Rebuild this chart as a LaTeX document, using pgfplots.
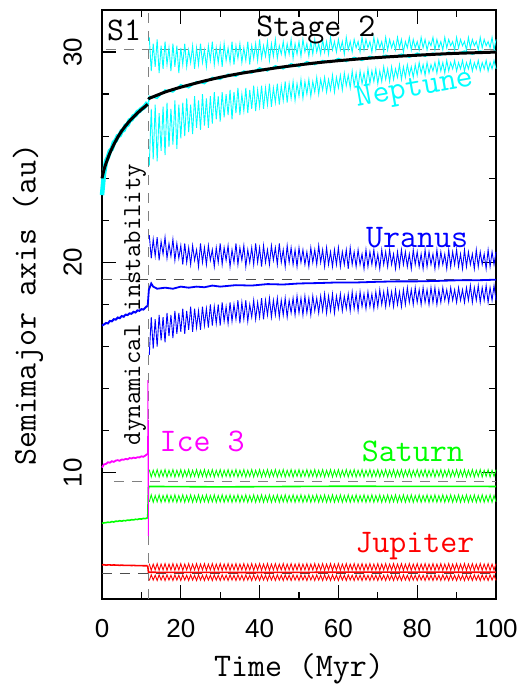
\documentclass[border=0pt]{standalone}
\usepackage{fontspec}
\usepackage{pgfplots}
\usepackage{pgfplotstable}
\pgfplotsset{compat=1.18}
\newfontfamily\tickfont{Liberation Sans}
\newcommand\labfont{\ttfamily\fontsize{33}{36}\selectfont}
\definecolor{cy}{rgb}{0,1,1}
\definecolor{mg}{rgb}{1,0,1}
\definecolor{gr}{rgb}{0,1,0}
\definecolor{bl}{rgb}{0,0,1}
\definecolor{rd}{rgb}{1,0,0}

% before the instability: t, Neptune, Uranus, Saturn, Ice 3, Jupiter
\pgfplotstableread{
t nA uA sA iA jA
0 23.2 17.00 7.60 10.25 5.62
0.5 24.2 17.05 7.62 10.40 5.63
1 24.8 17.12 7.63 10.42 5.61
1.5 25.0 17.10 7.65 10.50 5.62
2 25.3 17.22 7.64 10.48 5.62
2.5 25.4 17.20 7.68 10.55 5.61
3 25.7 17.30 7.66 10.52 5.62
3.5 25.8 17.28 7.70 10.58 5.61
4 26.0 17.38 7.69 10.60 5.61
4.5 26.05 17.35 7.72 10.57 5.60
5 26.25 17.45 7.70 10.63 5.61
5.5 26.3 17.42 7.73 10.62 5.60
6 26.5 17.52 7.72 10.66 5.60
6.5 26.55 17.50 7.75 10.64 5.60
7 26.75 17.58 7.74 10.70 5.60
7.5 26.8 17.56 7.77 10.68 5.59
8 26.95 17.65 7.76 10.72 5.60
8.5 27.0 17.62 7.79 10.70 5.59
9 27.15 17.72 7.78 10.74 5.59
9.5 27.2 17.70 7.81 10.73 5.59
10 27.3 17.78 7.80 10.78 5.59
10.5 27.35 17.76 7.83 10.76 5.58
11 27.45 17.85 7.82 10.82 5.58
11.6 27.6 17.95 7.86 10.90 5.58
}\pre

% after the instability: aphelion (Q) and perihelion (q) of each planet
\pgfplotstableread{
t nQ nq uQ uq sQ sq jQ jq
12 30.7 24.6 21.3 15.6 10.15 8.62 5.68 4.88
12.5 29.1 27.3 20.2 17.4 9.80 8.95 5.36 5.15
13 30.4 24.9 21.1 15.9 10.12 8.60 5.66 4.90
13.5 29.3 27.5 20.3 17.3 9.83 8.92 5.38 5.13
14 30.6 24.8 21.2 16.0 10.15 8.62 5.68 4.88
14.5 29.0 27.1 20.1 17.5 9.80 8.95 5.36 5.15
15 30.3 25.3 21.0 16.3 10.12 8.60 5.66 4.90
15.5 29.2 27.4 20.4 17.4 9.83 8.92 5.38 5.13
16 30.5 25.1 21.2 16.2 10.15 8.62 5.68 4.88
16.5 29.4 27.6 20.2 17.6 9.80 8.95 5.36 5.15
17 30.2 25.5 20.9 16.5 10.12 8.60 5.66 4.90
17.5 29.1 27.3 20.3 17.5 9.83 8.92 5.38 5.13
18 30.4 25.6 21.1 16.4 10.15 8.62 5.68 4.88
18.5 29.3 27.7 20.1 17.7 9.80 8.95 5.36 5.15
19 30.3 25.4 20.9 16.6 10.12 8.60 5.66 4.90
19.5 29.0 27.5 20.2 17.6 9.83 8.92 5.38 5.13
20 30.2 25.9 20.8 16.7 10.15 8.62 5.68 4.88
20.5 29.4 27.6 19.9 17.8 9.80 8.95 5.36 5.15
21 30.4 26.0 20.9 16.6 10.12 8.60 5.66 4.90
21.5 29.3 27.8 20.0 17.7 9.83 8.92 5.38 5.13
22 30.1 26.2 20.7 16.8 10.15 8.62 5.68 4.88
22.5 29.5 27.5 19.9 17.9 9.80 8.95 5.36 5.15
23 30.3 26.1 20.8 16.7 10.12 8.60 5.66 4.90
23.5 29.2 27.9 20.1 17.8 9.83 8.92 5.38 5.13
24 30.2 26.4 20.6 16.9 10.15 8.62 5.68 4.88
24.5 29.4 27.7 19.8 17.7 9.80 8.95 5.36 5.15
25 30.4 26.3 20.9 16.8 10.12 8.60 5.66 4.90
25.5 29.5 28.0 20.0 17.9 9.83 8.92 5.38 5.13
26 30.1 26.5 20.7 17.0 10.15 8.62 5.68 4.88
26.5 29.3 27.8 19.9 17.8 9.80 8.95 5.36 5.15
27 30.3 26.4 20.8 16.9 10.12 8.60 5.66 4.90
27.5 29.6 27.9 20.1 18.0 9.83 8.92 5.38 5.13
28 30.5 26.6 20.6 17.0 10.15 8.62 5.68 4.88
28.5 29.4 28.1 19.8 17.9 9.80 8.95 5.36 5.15
29 30.2 26.8 20.7 17.1 10.12 8.60 5.66 4.90
29.5 29.5 27.9 20.0 18.0 9.83 8.92 5.38 5.13
30 30.3 26.7 20.9 17.0 10.15 8.62 5.68 4.88
30.5 29.3 28.1 19.9 18.1 9.80 8.95 5.36 5.15
31 30.4 26.9 20.7 17.2 10.12 8.60 5.66 4.90
31.5 29.6 28.0 20.1 17.9 9.83 8.92 5.38 5.13
32 30.2 27.0 20.8 17.1 10.15 8.62 5.68 4.88
32.5 29.5 28.2 19.8 18.1 9.80 8.95 5.36 5.15
33 30.5 26.8 20.6 17.2 10.12 8.60 5.66 4.90
33.5 29.4 28.1 20.0 18.0 9.83 8.92 5.38 5.13
34 30.3 27.1 20.9 17.3 10.15 8.62 5.68 4.88
34.5 29.7 28.3 19.9 18.2 9.80 8.95 5.36 5.15
35 30.4 27.0 20.7 17.1 10.12 8.60 5.66 4.90
35.5 29.5 28.0 20.1 18.1 9.83 8.92 5.38 5.13
36 30.2 27.2 20.8 17.3 10.15 8.62 5.68 4.88
36.5 29.6 28.3 19.8 18.2 9.80 8.95 5.36 5.15
37 30.5 27.1 20.6 17.2 10.12 8.60 5.66 4.90
37.5 29.4 28.2 20.0 18.0 9.83 8.92 5.38 5.13
38 30.3 27.3 20.7 17.4 10.15 8.62 5.68 4.88
38.5 29.7 28.4 19.9 18.2 9.80 8.95 5.36 5.15
39 30.4 27.2 20.9 17.3 10.12 8.60 5.66 4.90
39.5 29.6 28.2 20.0 18.1 9.83 8.92 5.38 5.13
40 30.6 27.4 20.7 17.4 10.15 8.62 5.68 4.88
40.5 29.7 28.4 19.8 18.3 9.80 8.95 5.36 5.15
41 30.3 27.3 20.8 17.3 10.12 8.60 5.66 4.90
41.5 29.8 28.3 20.0 18.2 9.83 8.92 5.38 5.13
42 30.5 27.5 20.6 17.5 10.15 8.62 5.68 4.88
42.5 29.6 28.5 19.9 18.3 9.80 8.95 5.36 5.15
43 30.4 27.4 20.8 17.4 10.12 8.60 5.66 4.90
43.5 29.8 28.3 20.1 18.2 9.83 8.92 5.38 5.13
44 30.6 27.6 20.7 17.5 10.15 8.62 5.68 4.88
44.5 29.7 28.5 19.9 18.3 9.80 8.95 5.36 5.15
45 30.3 27.5 20.9 17.4 10.12 8.60 5.66 4.90
45.5 29.9 28.4 20.0 18.2 9.83 8.92 5.38 5.13
46 30.5 27.7 20.6 17.5 10.15 8.62 5.68 4.88
46.5 29.8 28.6 19.8 18.3 9.80 8.95 5.36 5.15
47 30.4 27.6 20.8 17.4 10.12 8.60 5.66 4.90
47.5 29.9 28.5 20.0 18.2 9.83 8.92 5.38 5.13
48 30.6 27.8 20.7 17.6 10.15 8.62 5.68 4.88
48.5 29.7 28.6 19.9 18.3 9.80 8.95 5.36 5.15
49 30.4 27.7 20.6 17.5 10.12 8.60 5.66 4.90
49.5 29.9 28.5 19.8 18.4 9.83 8.92 5.38 5.13
50 30.5 27.9 20.7 17.6 10.15 8.62 5.68 4.88
50.5 29.8 28.7 20.0 18.3 9.80 8.95 5.36 5.15
51 30.6 27.8 20.6 17.5 10.12 8.60 5.66 4.90
51.5 30.0 28.6 19.9 18.4 9.83 8.92 5.38 5.13
52 30.4 28.0 20.5 17.6 10.15 8.62 5.68 4.88
52.5 29.8 28.7 19.8 18.3 9.80 8.95 5.36 5.15
53 30.5 27.9 20.7 17.5 10.12 8.60 5.66 4.90
53.5 29.9 28.6 20.0 18.4 9.83 8.92 5.38 5.13
54 30.6 28.1 20.6 17.7 10.15 8.62 5.68 4.88
54.5 30.0 28.8 19.9 18.3 9.80 8.95 5.36 5.15
55 30.4 28.0 20.8 17.6 10.12 8.60 5.66 4.90
55.5 29.9 28.7 20.0 18.4 9.83 8.92 5.38 5.13
56 30.6 28.2 20.6 17.7 10.15 8.62 5.68 4.88
56.5 30.0 28.8 19.8 18.5 9.80 8.95 5.36 5.15
57 30.5 28.1 20.7 17.6 10.12 8.60 5.66 4.90
57.5 29.9 28.7 19.9 18.4 9.83 8.92 5.38 5.13
58 30.7 28.2 20.5 17.7 10.15 8.62 5.68 4.88
58.5 30.1 28.9 19.8 18.5 9.80 8.95 5.36 5.15
59 30.5 28.1 20.6 17.6 10.12 8.60 5.66 4.90
59.5 30.0 28.8 19.9 18.4 9.83 8.92 5.38 5.13
60 30.6 28.3 20.7 17.8 10.15 8.62 5.68 4.88
60.5 30.1 28.9 19.8 18.5 9.80 8.95 5.36 5.15
61 30.5 28.2 20.5 17.7 10.12 8.60 5.66 4.90
61.5 29.9 29.0 19.9 18.4 9.83 8.92 5.38 5.13
62 30.7 28.4 20.6 17.8 10.15 8.62 5.68 4.88
62.5 30.1 28.9 19.7 18.5 9.80 8.95 5.36 5.15
63 30.5 28.3 20.7 17.7 10.12 8.60 5.66 4.90
63.5 30.0 29.1 19.9 18.6 9.83 8.92 5.38 5.13
64 30.6 28.4 20.5 17.8 10.15 8.62 5.68 4.88
64.5 30.2 29.0 19.8 18.5 9.80 8.95 5.36 5.15
65 30.5 28.3 20.6 17.7 10.12 8.60 5.66 4.90
65.5 30.0 29.1 19.9 18.6 9.83 8.92 5.38 5.13
66 30.7 28.5 20.4 17.9 10.15 8.62 5.68 4.88
66.5 30.1 29.0 19.7 18.5 9.80 8.95 5.36 5.15
67 30.6 28.4 20.6 17.8 10.12 8.60 5.66 4.90
67.5 30.2 29.2 19.8 18.6 9.83 8.92 5.38 5.13
68 30.5 28.5 20.5 17.9 10.15 8.62 5.68 4.88
68.5 30.0 29.1 19.9 18.5 9.80 8.95 5.36 5.15
69 30.7 28.6 20.6 17.8 10.12 8.60 5.66 4.90
69.5 30.1 29.2 19.8 18.6 9.83 8.92 5.38 5.13
70 30.6 28.5 20.4 17.9 10.15 8.62 5.68 4.88
70.5 30.2 29.1 19.7 18.7 9.80 8.95 5.36 5.15
71 30.5 28.6 20.6 18.0 10.12 8.60 5.66 4.90
71.5 30.0 29.3 19.9 18.6 9.83 8.92 5.38 5.13
72 30.7 28.7 20.5 17.9 10.15 8.62 5.68 4.88
72.5 30.1 29.2 19.8 18.7 9.80 8.95 5.36 5.15
73 30.6 28.6 20.6 18.0 10.12 8.60 5.66 4.90
73.5 30.2 29.3 19.9 18.6 9.83 8.92 5.38 5.13
74 30.5 28.7 20.4 17.9 10.15 8.62 5.68 4.88
74.5 30.1 29.2 19.7 18.7 9.80 8.95 5.36 5.15
75 30.7 28.8 20.5 18.0 10.12 8.60 5.66 4.90
75.5 30.2 29.4 19.8 18.6 9.83 8.92 5.38 5.13
76 30.6 28.7 20.6 17.9 10.15 8.62 5.68 4.88
76.5 30.0 29.3 19.9 18.7 9.80 8.95 5.36 5.15
77 30.5 28.8 20.5 18.0 10.12 8.60 5.66 4.90
77.5 30.2 29.4 19.8 18.8 9.83 8.92 5.38 5.13
78 30.7 28.9 20.4 18.1 10.15 8.62 5.68 4.88
78.5 30.1 29.3 19.7 18.7 9.80 8.95 5.36 5.15
79 30.6 28.8 20.6 18.0 10.12 8.60 5.66 4.90
79.5 30.2 29.4 19.9 18.8 9.83 8.92 5.38 5.13
80 30.5 28.9 20.5 18.1 10.15 8.62 5.68 4.88
80.5 30.1 29.5 19.8 18.7 9.80 8.95 5.36 5.15
81 30.7 29.0 20.4 18.0 10.12 8.60 5.66 4.90
81.5 30.2 29.4 19.7 18.8 9.83 8.92 5.38 5.13
82 30.6 28.9 20.6 18.1 10.15 8.62 5.68 4.88
82.5 30.1 29.5 19.8 18.7 9.80 8.95 5.36 5.15
83 30.5 29.0 20.5 18.0 10.12 8.60 5.66 4.90
83.5 30.3 29.4 19.9 18.8 9.83 8.92 5.38 5.13
84 30.7 29.1 20.4 18.1 10.15 8.62 5.68 4.88
84.5 30.1 29.5 19.7 18.8 9.80 8.95 5.36 5.15
85 30.6 29.0 20.6 18.0 10.12 8.60 5.66 4.90
85.5 30.2 29.6 19.8 18.7 9.83 8.92 5.38 5.13
86 30.5 29.1 20.5 18.1 10.15 8.62 5.68 4.88
86.5 30.1 29.5 19.9 18.8 9.80 8.95 5.36 5.15
87 30.7 29.0 20.4 18.2 10.12 8.60 5.66 4.90
87.5 30.2 29.6 19.7 18.7 9.83 8.92 5.38 5.13
88 30.6 29.1 20.6 18.1 10.15 8.62 5.68 4.88
88.5 30.3 29.5 19.8 18.8 9.80 8.95 5.36 5.15
89 30.5 29.2 20.5 18.2 10.12 8.60 5.66 4.90
89.5 30.1 29.6 19.9 18.7 9.83 8.92 5.38 5.13
90 30.7 29.1 20.6 18.1 10.15 8.62 5.68 4.88
90.5 30.2 29.5 19.8 18.8 9.80 8.95 5.36 5.15
91 30.6 29.2 20.4 18.2 10.12 8.60 5.66 4.90
91.5 30.3 29.6 19.7 18.7 9.83 8.92 5.38 5.13
92 30.5 29.1 20.6 18.1 10.15 8.62 5.68 4.88
92.5 30.1 29.5 19.8 18.8 9.80 8.95 5.36 5.15
93 30.7 29.2 20.5 18.2 10.12 8.60 5.66 4.90
93.5 30.2 29.6 19.9 18.9 9.83 8.92 5.38 5.13
94 30.6 29.1 20.4 18.1 10.15 8.62 5.68 4.88
94.5 30.3 29.5 19.7 18.8 9.80 8.95 5.36 5.15
95 30.5 29.2 20.6 18.2 10.12 8.60 5.66 4.90
95.5 30.1 29.6 19.8 18.9 9.83 8.92 5.38 5.13
96 30.7 29.1 20.5 18.1 10.15 8.62 5.68 4.88
96.5 30.2 29.5 19.9 18.8 9.80 8.95 5.36 5.15
97 30.6 29.2 20.4 18.2 10.12 8.60 5.66 4.90
97.5 30.3 29.6 19.7 18.9 9.83 8.92 5.38 5.13
98 30.5 29.1 20.6 18.1 10.15 8.62 5.68 4.88
98.5 30.2 29.5 19.8 18.8 9.80 8.95 5.36 5.15
99 30.7 29.2 20.5 18.2 10.12 8.60 5.66 4.90
99.5 30.1 29.6 19.9 18.9 9.83 8.92 5.38 5.13
100 30.6 29.2 20.5 18.2 10.15 8.62 5.68 4.88
}\post

\begin{document}
\begin{tikzpicture}
\useasboundingbox (-102pt,-90pt) rectangle (423pt,599pt);
\begin{axis}[
    at={(0,0)}, anchor=south west,
    scale only axis,
    width=394pt, height=589pt,
    xmin=0, xmax=100, ymin=4, ymax=32,
    xtick={0,20,...,100}, minor x tick num=1,
    ytick={10,20,30}, minor y tick num=4,
    tick align=inside,
    major tick length=14pt, minor tick length=7pt,
    tick style={line width=1.3pt, black},
    axis line style={line width=1.6pt},
    /pgf/number format/assume math mode=true,
    ticklabel style={font=\tickfont\fontsize{26}{28}\selectfont},
    xticklabel style={anchor=north, inner sep=0pt},
    xticklabel shift=20pt,
    yticklabel style={rotate=90, anchor=south, inner sep=0pt},
    yticklabel shift=20pt,
    clip=false,
]
% reference lines
\addplot[gray, line width=1pt, dash pattern=on 10pt off 8pt] coordinates {(1,30.1)(100,30.1)};
\addplot[black!70, line width=1pt, dash pattern=on 10pt off 8pt] coordinates {(0,19.2)(100,19.2)};
\addplot[gray, line width=1pt, dash pattern=on 10pt off 8pt] coordinates {(3,9.58)(100,9.58)};
\addplot[black!70, line width=1pt, dash pattern=on 10pt off 8pt] coordinates {(0,5.2)(100,5.2)};
\addplot[gray, line width=1pt, dash pattern=on 10pt off 8pt] coordinates {(11.7,4)(11.7,32)};

% Jupiter
\addplot[rd, line width=0.9pt] table[x=t, y=jQ] {\post};
\addplot[rd, line width=0.9pt] table[x=t, y=jq] {\post};
\addplot[rd, line width=1.6pt] table[x=t, y=jA] {\pre};
\addplot[rd, line width=1.6pt] coordinates {(11.6,5.58)(11.8,5.27)(40,5.26)(70,5.28)(100,5.27)};

% Saturn
\addplot[gr, line width=0.9pt] table[x=t, y=sQ] {\post};
\addplot[gr, line width=0.9pt] table[x=t, y=sq] {\post};
\addplot[gr, line width=1.6pt] table[x=t, y=sA] {\pre};
\addplot[gr, line width=1.6pt] coordinates {(11.6,7.86)(11.8,9.3)(12,9.35)(30,9.33)(60,9.36)(100,9.35)};

% Uranus
\addplot[bl, line width=0.9pt] table[x=t, y=uQ] {\post};
\addplot[bl, line width=0.9pt] table[x=t, y=uq] {\post};
\addplot[bl, line width=2pt] table[x=t, y=uA] {\pre};
\addplot[bl, line width=1.8pt] coordinates {
(11.6,17.95)(11.9,18.7)(12.5,19.0)(13,18.85)(14,18.75)(16,18.8)(18,18.75)
(20,18.85)(22,18.8)(24,18.85)(26,18.82)(28,18.9)(30,18.85)(34,18.92)
(38,18.9)(42,18.97)(46,18.95)(50,19.0)(55,19.02)(60,19.05)(65,19.05)
(70,19.08)(75,19.1)(80,19.1)(85,19.12)(90,19.15)(95,19.15)(100,19.18)};

% Ice 3
\addplot[mg, line width=1.8pt] table[x=t, y=iA] {\pre};
\addplot[mg, line width=1pt] coordinates {(11.6,10.9)(11.65,14.4)(11.7,9.0)(11.75,12.5)(11.8,7.0)};

% Neptune
\addplot[cy, line width=0.9pt] table[x=t, y=nQ] {\post};
\addplot[cy, line width=0.9pt] table[x=t, y=nq] {\post};
\addplot[cy, line width=4.5pt] table[x=t, y=nA] {\pre};
\addplot[cy, line width=1.4pt] coordinates {
(11.8,27.6)(12,27.9)(14,27.8)(16,28.2)(18,28.1)(20,28.45)(22,28.3)(24,28.6)
(26,28.5)(28,28.8)(30,28.7)(32,28.95)(34,28.85)(36,29.1)(38,29.0)(40,29.25)
(42,29.1)(44,29.35)(46,29.2)(48,29.45)(50,29.3)(52,29.55)(54,29.4)(56,29.6)
(58,29.5)(60,29.7)(62,29.55)(64,29.75)(66,29.6)(68,29.8)(70,29.7)(72,29.85)
(74,29.75)(76,29.9)(78,29.75)(80,29.95)(82,29.8)(84,29.95)(86,29.85)(88,30.0)
(90,29.9)(92,30.05)(94,29.9)(96,30.05)(98,29.95)(100,30.05)};

% fitted curve
\addplot[black, line width=3pt, smooth] coordinates {
(0,24.0)(0.5,24.4)(1,24.7)(2,25.2)(3,25.6)(4,25.95)(5,26.25)(6,26.5)
(7,26.72)(8,26.92)(9,27.1)(10,27.27)(11,27.42)(11.6,27.52)};
\addplot[black, line width=3pt, smooth] coordinates {
(11.8,27.75)(12,27.8)(14,27.95)(16,28.1)(18,28.22)(20,28.33)(25,28.58)
(30,28.8)(35,28.98)(40,29.13)(45,29.27)(50,29.39)(55,29.5)(60,29.59)
(65,29.67)(70,29.74)(75,29.8)(80,29.85)(85,29.9)(90,29.94)(95,29.97)(100,30.0)};

% labels
\node[font=\labfont] at (axis cs:5.6,31.05) {S1};
\node[font=\labfont] at (axis cs:54.3,31.05) {Stage 2};
\node[font=\labfont, text=cy, rotate=10] at (axis cs:79.4,28.2) {Neptune};
\node[font=\labfont, text=bl] at (axis cs:80,21.2) {Uranus};
\node[font=\labfont, text=gr] at (axis cs:78.9,11.0) {Saturn};
\node[font=\labfont, text=rd] at (axis cs:79.4,6.5) {Jupiter};
\node[font=\labfont, text=mg] at (axis cs:25.4,11.5) {Ice 3};
\node[font=\ttfamily\fontsize{26}{28}\selectfont, rotate=90] at (axis cs:8.4,18.0) {dynamical instability};

\node[font=\labfont] at ([yshift=-70pt]rel axis cs:0.5,0) {Time (Myr)};
\node[font=\labfont, rotate=90] at ([xshift=-74pt]rel axis cs:0,0.5) {Semimajor axis (au)};
\end{axis}
\end{tikzpicture}
\end{document}
